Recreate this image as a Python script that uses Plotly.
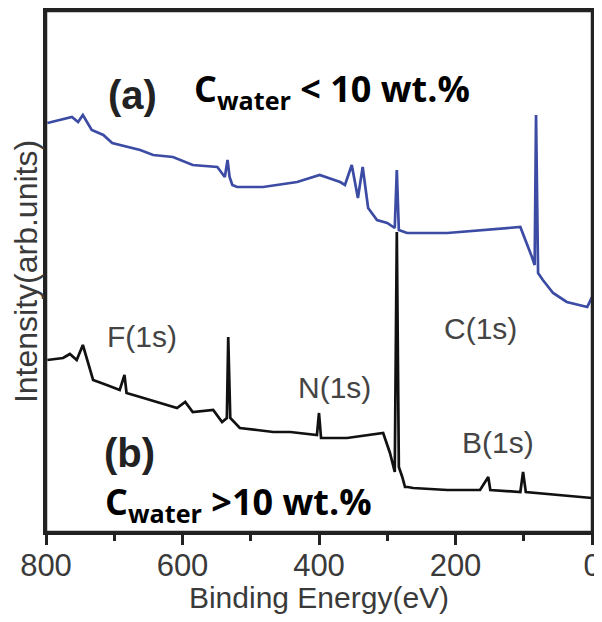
import plotly.graph_objects as go

# Binding energy (eV) and intensity (arb. units)
energy_a = [798, 762, 753, 746, 733, 716, 703, 681, 662, 643, 614, 585, 549, 538, 534,
            531, 527, 520, 482, 432, 399, 369, 362, 352, 343, 336, 328, 315, 300, 289,
            286, 283, 271, 212, 105, 88, 84, 82, 79, 72, 57, 37, 7, 0]
inten_a = [432, 438, 433, 440, 425, 420, 412, 408, 405, 400, 398, 390, 388, 378, 395,
           378, 370, 368, 368, 373, 380, 373, 370, 390, 357, 388, 347, 335, 332, 327,
           385, 325, 322, 322, 328, 298, 290, 440, 282, 275, 262, 253, 248, 258]

energy_b = [798, 775, 765, 755, 746, 740, 731, 711, 692, 685, 682, 662, 637, 608, 596,
            585, 555, 542, 535, 533, 530, 520, 516, 491, 467, 442, 403, 400, 397, 359,
            306, 296, 289, 286, 283, 278, 274, 270, 262, 212, 164, 152, 149, 105, 101,
            97, 42, 0]
inten_b = [195, 197, 201, 195, 210, 195, 175, 170, 165, 180, 162, 158, 153, 147, 153,
           143, 145, 133, 137, 218, 137, 130, 127, 125, 123, 123, 120, 142, 117, 117,
           122, 102, 83, 323, 88, 78, 68, 68, 67, 65, 65, 78, 65, 63, 83, 63, 60, 57]

x_ticks = [800, 600, 400, 200, 0]
x_tick_labels = ["800", "600", "400", "200", "0"]

fig = go.Figure()
fig.add_trace(go.Scatter(x=energy_b, y=inten_b, mode="lines",
                         line=dict(color="#111111", width=2.7), showlegend=False))
fig.add_trace(go.Scatter(x=energy_a, y=inten_a, mode="lines",
                         line=dict(color="#3c4ba3", width=2.7), showlegend=False))

ARIAL = "Liberation Sans, Arial, sans-serif"
lab = dict(family=ARIAL, size=30, color="#444444")
big = dict(family="Open Sans, Calibri, sans-serif", size=36, color="#000000")
par = dict(family=ARIAL, size=40, color="#222222")

ann = [
    dict(x=674, y=460, text="<b>(a)</b>", font=par, xanchor="center"),
    dict(x=586, y=465, text="<b>C<sub>water</sub> < 10 wt.%</b>", font=big, xanchor="left"),
    dict(x=659, y=219, text="F(1s)", font=lab, xanchor="center"),
    dict(x=377, y=168, text="N(1s)", font=lab, xanchor="center"),
    dict(x=164, y=227, text="C(1s)", font=lab, xanchor="center"),
    dict(x=138, y=113, text="B(1s)", font=lab, xanchor="center"),
    dict(x=677, y=102, text="<b>(b)</b>", font=par, xanchor="center"),
    dict(x=716, y=52, text="<b>C<sub>water</sub> >10 wt.%</b>", font=big, xanchor="left"),
]
for a in ann:
    a.update(xref="x", yref="y", showarrow=False, yanchor="middle")

fig.update_layout(
    width=594, height=606,
    margin=dict(l=38, r=10, t=3, b=82, autoexpand=False),
    paper_bgcolor="white", plot_bgcolor="white",
    annotations=ann,
    shapes=[dict(type="rect", xref="paper", yref="paper", x0=0, x1=1, y0=0, y1=1,
                 line=dict(color="#222", width=2.5), layer="above")],
    xaxis=dict(
        range=[800, 0], tickvals=x_ticks, ticktext=x_tick_labels,
        ticks="outside", ticklen=10, tickwidth=2.5, tickcolor="#222",
        minor=dict(dtick=100, ticks="outside", ticklen=6, tickwidth=2.5, tickcolor="#222"),
        showline=True, mirror=True, linewidth=2.5, linecolor="#222",
        showgrid=False, zeroline=False, ticklabelstandoff=-6, automargin=False,
        tickfont=dict(family=ARIAL, size=31, color="#3a3a3a"),
        title=dict(text="Binding Energy(eV)", standoff=19,
                   font=dict(family=ARIAL, size=30, color="#3a3a3a")),
    ),
    yaxis=dict(
        range=[23, 544], showticklabels=False, ticks="", automargin=False,
        showline=True, mirror=True, linewidth=2.5, linecolor="#222",
        showgrid=False, zeroline=False,
        title=dict(text="Intensity(arb.units)", standoff=6,
                   font=dict(family=ARIAL, size=32, color="#3a3a3a")),
    ),
)

fig.write_html("out.html")
